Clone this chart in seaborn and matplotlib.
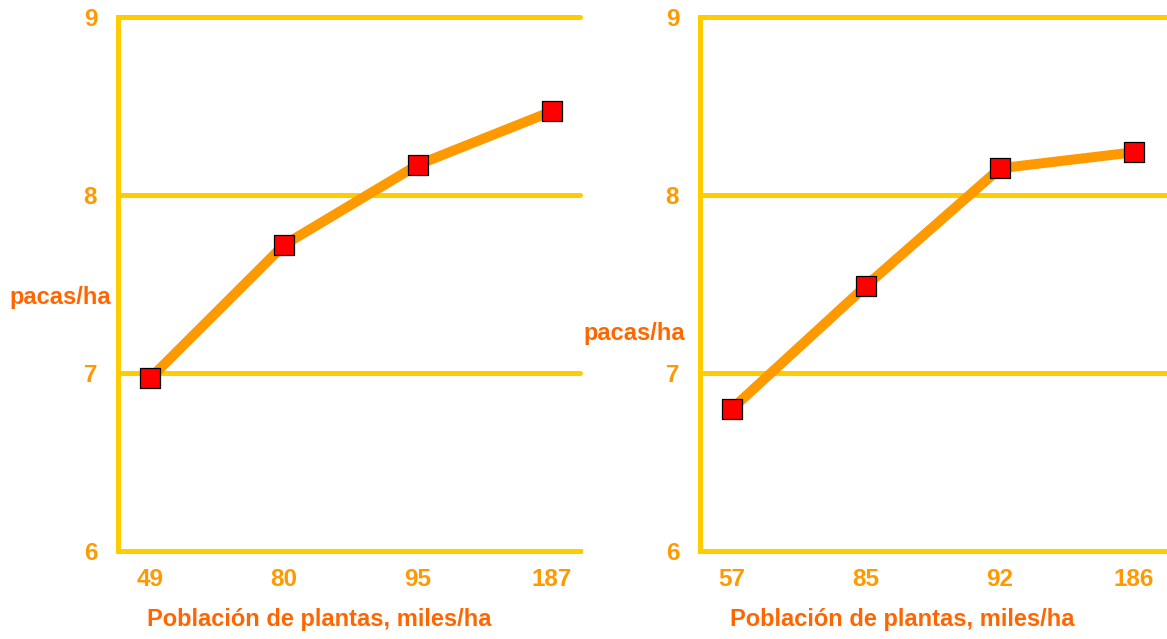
import matplotlib
matplotlib.use("Agg")
import matplotlib.pyplot as plt
import seaborn as sns
import pandas as pd

# Data
left_categories = ["49", "80", "95", "187"]
left_values = [6.97, 7.72, 8.17, 8.47]
right_categories = ["57", "85", "92", "186"]
right_values = [6.80, 7.49, 8.15, 8.24]
y_ticks = [6, 7, 8, 9]
x_label = "Población de plantas, miles/ha"
y_label = "pacas/ha"

sns.set_theme(style="white")
plt.rcParams['font.family'] = ['Liberation Sans', 'DejaVu Sans']

GOLD = "#FFCC00"
ORANGE = "#FF9900"
LABEL = "#FF6600"

fig = plt.figure(figsize=(11.67, 6.39), dpi=100)
ax1 = fig.add_axes([118/1167, 1-551/639, 462/1167, 534/639])
ax2 = fig.add_axes([700/1167, 1-551/639, 466/1167, 534/639])

panels = [
    (ax1, left_categories, left_values, (-0.124, 0.474), 3.21),
    (ax2, right_categories, right_values, (-0.141, 0.408), 3.24),
]

for ax, cats, vals, lblpos, xmax in panels:
    df = pd.DataFrame({"cat": cats, "val": vals})
    pos = list(range(len(cats)))
    df["pos"] = pos
    sns.lineplot(data=df, x="pos", y="val", ax=ax, color=ORANGE, lw=7.2,
                 zorder=3, legend=False)
    sns.scatterplot(data=df, x="pos", y="val", ax=ax, marker="s", s=190,
                    color="#FF0000", edgecolor="black", linewidth=0.9,
                    zorder=4, legend=False)
    ax.set_xlim(-0.24, xmax)
    ax.set_ylim(6, 9)
    ax.set_xticks(pos)
    ax.set_xticklabels(cats)
    ax.set_yticks(y_ticks)
    ax.set_yticklabels([str(t) for t in y_ticks])
    for t in y_ticks[1:]:
        ax.axhline(t, color=GOLD, lw=3.6, zorder=1, clip_on=False)
    for side in ["top", "right"]:
        ax.spines[side].set_visible(False)
    for side in ["left", "bottom"]:
        ax.spines[side].set_color(GOLD)
        ax.spines[side].set_linewidth(3.6)
    ax.tick_params(axis="both", length=0, colors=ORANGE, labelsize=17.5)
    ax.tick_params(axis="y", pad=15)
    ax.tick_params(axis="x", pad=12)
    for lbl in ax.get_xticklabels() + ax.get_yticklabels():
        lbl.set_fontweight("bold")
        lbl.set_color(ORANGE)
    ax.set_xlabel(x_label, color=LABEL, fontsize=17, fontweight="bold",
                  ha="center", va="center")
    ax.xaxis.set_label_coords(0.435, -0.129)
    ax.set_ylabel(y_label, color=LABEL, fontsize=17, fontweight="bold",
                  rotation=0, ha="center", va="center")
    ax.yaxis.set_label_coords(*lblpos)
    ax.set_facecolor("white")

fig.savefig("out.png", dpi=100, facecolor="white")
